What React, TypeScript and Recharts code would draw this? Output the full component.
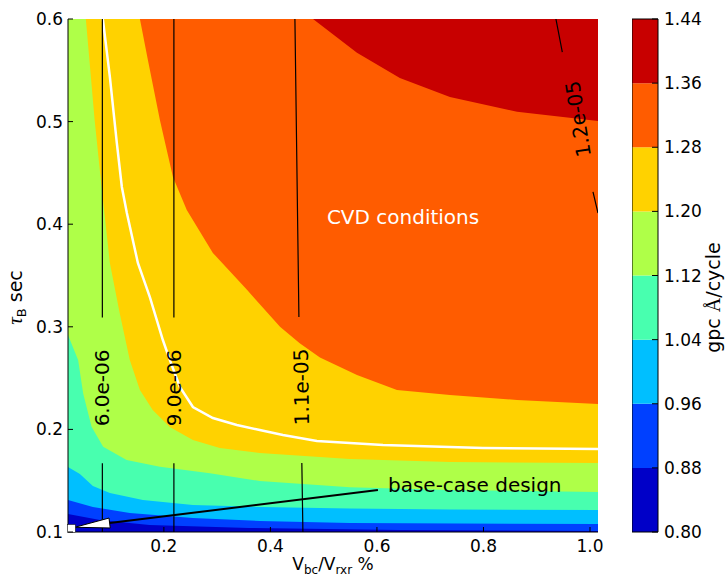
import React from "react";
import {
  Area,
  ComposedChart,
  Line,
  ReferenceArea,
  ReferenceDot,
  ReferenceLine,
  XAxis,
  YAxis,
} from "recharts";

const FONT = "'DejaVu Sans', sans-serif";
const MATH_FONT = "'Liberation Serif', serif";

// gpc levels of the filled contours and their jet colours (bottom band first)
const LEVELS = [0.8, 0.88, 0.96, 1.04, 1.12, 1.2, 1.28, 1.36, 1.44];
const BAND_COLORS = ["#0000c8", "#0040ff", "#00bfff", "#48ffaf", "#afff48", "#ffd200", "#ff5c00", "#c80000"];

const X_TICKS = [0.2, 0.4, 0.6, 0.8, 1.0];
const Y_TICKS = [0.1, 0.2, 0.3, 0.4, 0.5, 0.6];
const X_DOMAIN = [0.02, 1.015];
const Y_DOMAIN = [0.1, 0.6];

// lower edge of each band, [Vbc/Vrxr, tauB]
const EDGE_144 = [[0.02, 0.6], [1.015, 0.6]];
const EDGE_136 = [[0.02, 0.6], [0.48, 0.6], [0.5625, 0.567], [0.643, 0.5425], [0.737, 0.524], [0.863, 0.5095], [1.015, 0.5007]];
const EDGE_128 = [
  [0.02, 0.6], [0.155, 0.6], [0.17, 0.56], [0.1925, 0.5016], [0.217, 0.446], [0.243, 0.4138], [0.292, 0.372],
  [0.356, 0.336], [0.418, 0.3], [0.455, 0.284], [0.493, 0.27], [0.5625, 0.253], [0.6376, 0.2384], [0.737, 0.2335],
  [0.863, 0.2287], [1.015, 0.2248],
];
const EDGE_120 = [
  [0.02, 0.6], [0.0535, 0.6], [0.07, 0.5016], [0.0836, 0.4334], [0.0986, 0.3622], [0.117, 0.3135], [0.136, 0.2676],
  [0.155, 0.2384], [0.179, 0.2189], [0.211, 0.2023], [0.2545, 0.1897], [0.305, 0.1819], [0.38, 0.177], [0.549, 0.1711],
  [0.737, 0.1682], [1.015, 0.1672],
];
const EDGE_112 = [
  [0.02, 0.292], [0.039, 0.2676], [0.0485, 0.235], [0.0642, 0.2026], [0.086, 0.1831], [0.13, 0.1702], [0.1925, 0.1637],
  [0.2864, 0.1572], [0.38, 0.1497], [0.549, 0.1435], [0.737, 0.1409], [1.015, 0.139],
];
const EDGE_104 = [
  [0.02, 0.1634], [0.0423, 0.1565], [0.0667, 0.1448], [0.0986, 0.138], [0.1606, 0.1312], [0.2545, 0.1263],
  [0.38, 0.1244], [0.549, 0.1229], [0.737, 0.1219], [1.015, 0.1214],
];
const EDGE_096 = [
  [0.02, 0.1312], [0.0667, 0.1244], [0.136, 0.1185], [0.2545, 0.1136], [0.38, 0.1107], [0.549, 0.1088], [1.015, 0.1078],
];
const EDGE_088 = [
  [0.02, 0.1175], [0.08, 0.1117], [0.173, 0.1068], [0.36, 0.1039], [0.643, 0.1019], [1.015, 0.101],
];

// white contour line
const WHITE_CONTOUR = [
  [0.0854, 0.6], [0.0986, 0.5435], [0.1117, 0.4791], [0.1211, 0.4363], [0.1305, 0.4109], [0.1512, 0.3622],
  [0.1737, 0.329], [0.1981, 0.2871], [0.2113, 0.2676], [0.23, 0.2413], [0.2545, 0.2218], [0.292, 0.2111],
  [0.337, 0.2043], [0.38, 0.1994], [0.4235, 0.1945], [0.4873, 0.1887], [0.6113, 0.1848], [0.799, 0.1819],
  [1.015, 0.1809],
];

// black labelled contours (null = gap left for the inline label)
const C_6E06 = [[0.0845, 0.6], [0.0845, 0.309], [0.0845, null], [0.0845, 0.167], [0.0845, 0.1]];
const C_9E06 = [[0.2188, 0.6], [0.2188, 0.309], [0.2188, null], [0.2188, 0.167], [0.2188, 0.1]];
const C_11E05 = [[0.446, 0.6], [0.4535, 0.3095], [0.456, null], [0.459, 0.1672], [0.461, 0.1]];
const C_12E05 = [[0.936, 0.6], [0.948, 0.5678], [0.97, null], [1.0056, 0.4314], [1.015, 0.4109]];

const CONTOUR_LABELS = ["6.0e-06", "9.0e-06", "1.1e-05", "1.2e-05"];
const CONTOUR_LABEL_AT = [[0.0845, 0.2404], [0.2188, 0.2404], [0.4582, 0.2413], [0.9775, 0.5025]];

const CVD_TEXT_AT = [0.649, 0.407];
const BASE_TEXT_AT = [0.6207, 0.1458];
const BASE_ARROW = [[0.6019, 0.1409], [0.0329, 0.1046]];
const BASE_CASE = [0.0263, 0.1034];

const pts = (arr: (number | null)[][]) => arr.map(([x, y]) => ({ x, y }));

const LAYERS = [
  { edge: EDGE_144, color: BAND_COLORS[7] },
  { edge: EDGE_136, color: BAND_COLORS[6] },
  { edge: EDGE_128, color: BAND_COLORS[5] },
  { edge: EDGE_120, color: BAND_COLORS[4] },
  { edge: EDGE_112, color: BAND_COLORS[3] },
  { edge: EDGE_104, color: BAND_COLORS[2] },
  { edge: EDGE_096, color: BAND_COLORS[1] },
  { edge: EDGE_088, color: BAND_COLORS[0] },
];
const BLACK_CONTOURS = [C_6E06, C_9E06, C_11E05, C_12E05];
const LABEL_ANGLE = [-90, -90, -91, -99];

const XTick = (p: any) => (
  <g>
    <line x1={p.x} y1={p.y} x2={p.x} y2={p.y - 5} stroke="#000" />
    <text x={p.x} y={p.y + 20} textAnchor="middle" fontSize={17} fontFamily={FONT} fill="#000">
      {p.payload.value.toFixed(1)}
    </text>
  </g>
);
const TopTick = (p: any) => <line x1={p.x} y1={p.y} x2={p.x} y2={p.y + 5} stroke="#000" />;
const YTick = (p: any) => (
  <g>
    <line x1={p.x} y1={p.y} x2={p.x + 5} y2={p.y} stroke="#000" />
    <text x={p.x - 5} y={p.y + 6} textAnchor="end" fontSize={17} fontFamily={FONT} fill="#000">
      {p.payload.value.toFixed(1)}
    </text>
  </g>
);
const RightTick = (p: any) => <line x1={p.x} y1={p.y} x2={p.x - 5} y2={p.y} stroke="#000" />;
const BarTick = (p: any) => (
  <g>
    <line x1={p.x} y1={p.y} x2={p.x - 6} y2={p.y} stroke="#000" />
    <text x={p.x + 6} y={p.y + 6} textAnchor="start" fontSize={17} fontFamily={FONT} fill="#000">
      {p.payload.value.toFixed(2)}
    </text>
  </g>
);

const XLabel = (p: any) => {
  const vb = p.viewBox;
  return (
    <text x={vb.x + vb.width / 2} y={vb.y + 38} textAnchor="middle" fontSize={17} fontFamily={FONT} fill="#000">
      V<tspan fontSize={12} dy={4}>bc</tspan>
      <tspan dy={-4}>/V</tspan>
      <tspan fontSize={12} dy={4}>rxr</tspan>
      <tspan dy={-4}> %</tspan>
    </text>
  );
};
const YLabel = (p: any) => {
  const vb = p.viewBox;
  const x = vb.x + 14;
  const y = vb.y + vb.height / 2 + 22;
  return (
    <text x={x} y={y} transform={`rotate(-90 ${x} ${y})`} textAnchor="middle" fontSize={19} fontFamily={FONT} fill="#000">
      <tspan fontFamily={MATH_FONT} fontStyle="italic" fontSize={21}>τ</tspan>
      <tspan fontSize={13} dy={4}>B</tspan>
      <tspan dy={-4}> sec</tspan>
    </text>
  );
};
const BarLabel = (p: any) => {
  const vb = p.viewBox;
  const x = vb.x + 62;
  const y = vb.y + vb.height / 2 + 22;
  return (
    <text x={x} y={y} transform={`rotate(-90 ${x} ${y})`} textAnchor="middle" fontSize={19} fontFamily={FONT} fill="#000">
      gpc <tspan fontFamily={MATH_FONT} fontSize={20}>Å</tspan>/cycle
    </text>
  );
};

const textShape = (text: string, color: string, anchor: string, angle = 0, size = 20) => (p: any) => (
  <text
    x={p.cx}
    y={p.cy}
    transform={angle ? `rotate(${angle} ${p.cx} ${p.cy})` : undefined}
    textAnchor={anchor}
    dominantBaseline="central"
    fontSize={size}
    fontFamily={FONT}
    fill={color}
  >
    {text}
  </text>
);

const ArrowShape = (p: any) => {
  const { x1, y1, x2, y2 } = p;
  const len = Math.hypot(x1 - x2, y1 - y2);
  const dx = (x1 - x2) / len;
  const dy = (y1 - y2) / len;
  const bx = x2 + dx * 35;
  const by = y2 + dy * 35;
  const hw = 5;
  return (
    <g>
      <line x1={x1} y1={y1} x2={bx} y2={by} stroke="#000" strokeWidth={2} />
      <polygon
        points={`${x2},${y2} ${bx - dy * hw},${by + dx * hw} ${bx + dy * hw},${by - dx * hw}`}
        fill="#fff"
        stroke="#000"
        strokeWidth={1}
      />
    </g>
  );
};

const SquareShape = (p: any) => (
  <rect x={p.cx - 4} y={p.cy - 4} width={8} height={8} fill="#fff" stroke="#000" strokeWidth={0.5} />
);

export default function App() {
  return (
    <div style={{ position: "absolute", left: 0, top: 0, width: 728, height: 577, overflow: "hidden", fontFamily: FONT }}>
      <div style={{ position: "absolute", left: 8, top: 8 }}>
        <ComposedChart width={720} height={569} margin={{ top: 11, right: 130, bottom: 0, left: 0 }}>
          {LAYERS.map((l, i) => (
            <Area
              key={`band${i}`}
              data={pts(l.edge)}
              dataKey="y"
              xAxisId="b"
              yAxisId="l"
              type="linear"
              baseValue="dataMin"
              stroke="none"
              fill={l.color}
              fillOpacity={1}
              dot={false}
              activeDot={false}
              isAnimationActive={false}
            />
          ))}
          <Line
            data={pts(WHITE_CONTOUR)}
            dataKey="y"
            xAxisId="b"
            yAxisId="l"
            type="linear"
            stroke="#fff"
            strokeWidth={2.5}
            dot={false}
            activeDot={false}
            isAnimationActive={false}
          />
          {BLACK_CONTOURS.map((c, i) => (
            <Line
              key={`c${i}`}
              data={pts(c)}
              dataKey="y"
              xAxisId="b"
              yAxisId="l"
              type="linear"
              stroke="#000"
              strokeWidth={1.2}
              dot={false}
              activeDot={false}
              isAnimationActive={false}
            />
          ))}
          {CONTOUR_LABELS.map((t, i) => (
            <ReferenceDot
              key={t}
              xAxisId="b"
              yAxisId="l"
              x={CONTOUR_LABEL_AT[i][0]}
              y={CONTOUR_LABEL_AT[i][1]}
              shape={textShape(t, "#000", "middle", LABEL_ANGLE[i])}
            />
          ))}
          <ReferenceDot xAxisId="b" yAxisId="l" x={CVD_TEXT_AT[0]} y={CVD_TEXT_AT[1]} shape={textShape("CVD conditions", "#fff", "middle")} />
          <ReferenceDot xAxisId="b" yAxisId="l" x={BASE_TEXT_AT[0]} y={BASE_TEXT_AT[1]} shape={textShape("base-case design", "#000", "start")} />
          <ReferenceLine
            xAxisId="b"
            yAxisId="l"
            segment={[
              { x: BASE_ARROW[0][0], y: BASE_ARROW[0][1] },
              { x: BASE_ARROW[1][0], y: BASE_ARROW[1][1] },
            ]}
            shape={ArrowShape}
          />
          <ReferenceDot xAxisId="b" yAxisId="l" x={BASE_CASE[0]} y={BASE_CASE[1]} shape={SquareShape} />
          <XAxis
            xAxisId="b"
            type="number"
            dataKey="x"
            domain={X_DOMAIN}
            ticks={X_TICKS}
            allowDataOverflow
            interval={0}
            tickSize={0}
            tickMargin={0}
            tick={XTick}
            height={45}
            axisLine={{ stroke: "#000" }}
            label={XLabel}
          />
          <XAxis
            xAxisId="t"
            orientation="top"
            type="number"
            dataKey="x"
            domain={X_DOMAIN}
            ticks={X_TICKS}
            allowDataOverflow
            interval={0}
            tickSize={0}
            tickMargin={0}
            tick={TopTick}
            height={0}
            axisLine={{ stroke: "#000" }}
          />
          <YAxis
            yAxisId="l"
            type="number"
            domain={Y_DOMAIN}
            ticks={Y_TICKS}
            allowDataOverflow
            interval={0}
            tickSize={0}
            tickMargin={0}
            tick={YTick}
            width={60}
            axisLine={{ stroke: "#000" }}
            label={YLabel}
          />
          <YAxis
            yAxisId="r"
            orientation="right"
            type="number"
            domain={Y_DOMAIN}
            ticks={Y_TICKS}
            allowDataOverflow
            interval={0}
            tickSize={0}
            tickMargin={0}
            tick={RightTick}
            width={0}
            axisLine={{ stroke: "#000" }}
          />
        </ComposedChart>
      </div>
      <div style={{ position: "absolute", left: 632, top: 8 }}>
        <ComposedChart width={96} height={569} margin={{ top: 11, right: 0, bottom: 45, left: 0 }}>
          {BAND_COLORS.map((c, i) => (
            <ReferenceArea
              key={c}
              x1={0}
              x2={1}
              y1={LEVELS[i]}
              y2={LEVELS[i + 1]}
              fill={c}
              fillOpacity={1}
              stroke="none"
            />
          ))}
          <ReferenceArea x1={0} x2={1} y1={LEVELS[0]} y2={LEVELS[LEVELS.length - 1]} fill="none" stroke="#000" strokeWidth={1} />
          <XAxis type="number" dataKey="x" domain={[0, 1]} allowDataOverflow hide />
          <YAxis
            orientation="right"
            type="number"
            domain={[LEVELS[0], LEVELS[LEVELS.length - 1]]}
            ticks={LEVELS}
            allowDataOverflow
            interval={0}
            tickSize={0}
            tickMargin={0}
            tick={BarTick}
            axisLine={false}
            width={70}
            label={BarLabel}
          />
        </ComposedChart>
      </div>
    </div>
  );
}
